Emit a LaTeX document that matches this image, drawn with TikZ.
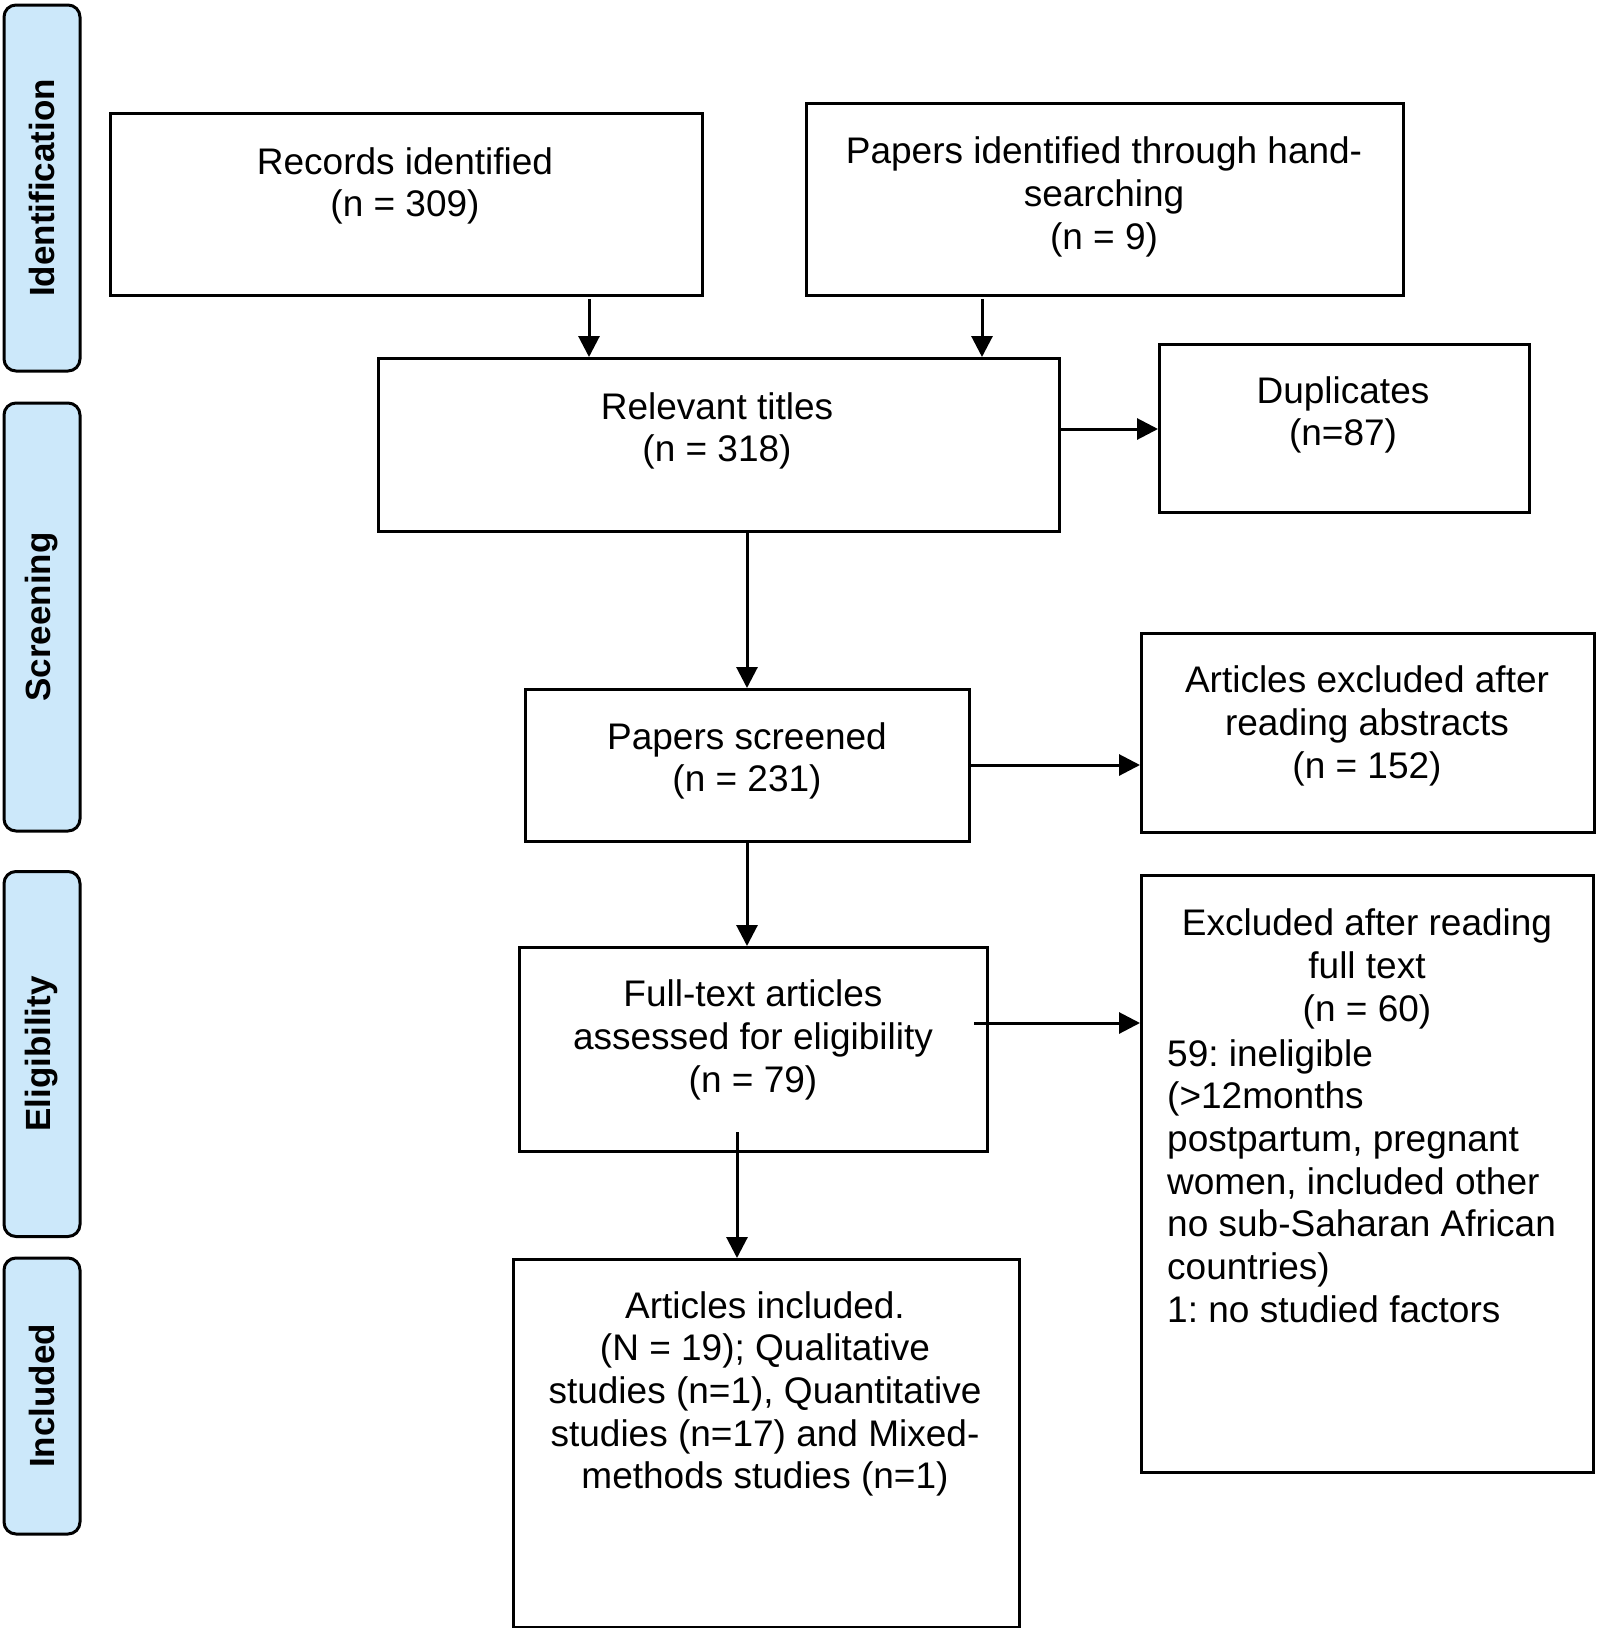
\documentclass[tikz,border=0pt]{standalone}
\usepackage{fontspec}
\setmainfont{Liberation Sans}
\usetikzlibrary{arrows.meta,calc}
\definecolor{sideblue}{HTML}{CCE8FA}
\frenchspacing
\begin{document}
\begin{tikzpicture}[x=1pt,y=-1pt,
  box/.style={draw,line width=2.8pt,inner sep=0pt,anchor=north west},
  txt/.style={align=center,inner sep=0pt,font=\fontsize{37}{42.7}\selectfont},
  ltxt/.style={align=left,inner sep=0pt,font=\fontsize{37}{42.7}\selectfont},
  sidebox/.style={draw,line width=3pt,fill=sideblue,rounded corners=12pt,rotate=90,inner sep=0pt,minimum height=76pt,font=\bfseries\fontsize{35}{40}\selectfont},
  arr/.style={line width=3pt,-{Triangle[length=21pt,width=21pt]}}]
\useasboundingbox (0,0) rectangle (1600,1628);
% side labels
\node[sidebox,minimum width=366pt] (sid) at (42,188) {Identification};
\node[sidebox,minimum width=428pt] (ssc) at (42,617) {Screening};
\node[sidebox,minimum width=365pt] (sel) at (42,1054) {Eligibility};
\node[sidebox,minimum width=276pt] (sin) at (42,1396) {Included};
% boxes
\node[box,minimum width=592pt,minimum height=182pt] (rec) at (109,112) {};
\node[box,minimum width=597pt,minimum height=192pt] (hand) at (805,102) {};
\node[box,minimum width=681pt,minimum height=173pt] (rel) at (377,357) {};
\node[box,minimum width=370pt,minimum height=168pt] (dup) at (1158,343) {};
\node[box,minimum width=444pt,minimum height=152pt] (scr) at (524,688) {};
\node[box,minimum width=453pt,minimum height=199pt] (exa) at (1140,632) {};
\node[box,minimum width=468pt,minimum height=204pt] (full) at (518,946) {};
\node[box,minimum width=452pt,minimum height=597pt] (exf) at (1140,874) {};
\node[box,minimum width=506pt,minimum height=368pt] (inc) at (512,1258) {};
% texts
\node[txt] (recT) at (405,186) {Records identified\\(n = 309)};
\node[txt] (handT) at (1104,197) {Papers identified through hand-\\searching\\(n = 9)};
\node[txt] (relT) at (717,431) {Relevant titles\\(n = 318)};
\node[txt] (dupT) at (1343,415) {Duplicates\\(n=87)};
\node[txt] (scrT) at (747,761) {Papers screened\\(n = 231)};
\node[txt] (exaT) at (1367,726) {Articles excluded after\\reading abstracts\\(n = 152)};
\node[txt] (fullT) at (753,1040) {Full-text articles\\assessed for eligibility\\(n = 79)};
\node[txt] (exfT) at (1367,969) {Excluded after reading\\full text\\(n = 60)};
\node[ltxt,anchor=west] (exfL) at (1167,1181) {59: ineligible\\(>12months\\postpartum, pregnant\\women, included other\\no sub-Saharan African\\countries)\\1: no studied factors};
\node[txt] (incT) at (765,1394) {Articles included.\\(N = 19); Qualitative\\studies (n=1), Quantitative\\studies (n=17) and Mixed-\\methods studies (n=1)};
% arrows
\coordinate (a1) at (589,299);
\coordinate (a2) at (982,299);
\draw[arr] (a1) -- (a1 |- rel.north);
\draw[arr] (a2) -- (a2 |- rel.north);
\coordinate (a3) at (1058,429);
\draw[arr] (a3) -- (a3 -| dup.west);
\coordinate (a4) at (747,530);
\draw[arr] (a4) -- (a4 |- scr.north);
\coordinate (a5) at (968,765);
\draw[arr] (a5) -- (a5 -| exa.west);
\coordinate (a6) at (747,840);
\draw[arr] (a6) -- (a6 |- full.north);
\coordinate (a7) at (974,1023);
\draw[arr] (a7) -- (a7 -| exf.west);
\coordinate (a8) at (737,1132);
\draw[arr] (a8) -- (a8 |- inc.north);
\end{tikzpicture}
\end{document}
